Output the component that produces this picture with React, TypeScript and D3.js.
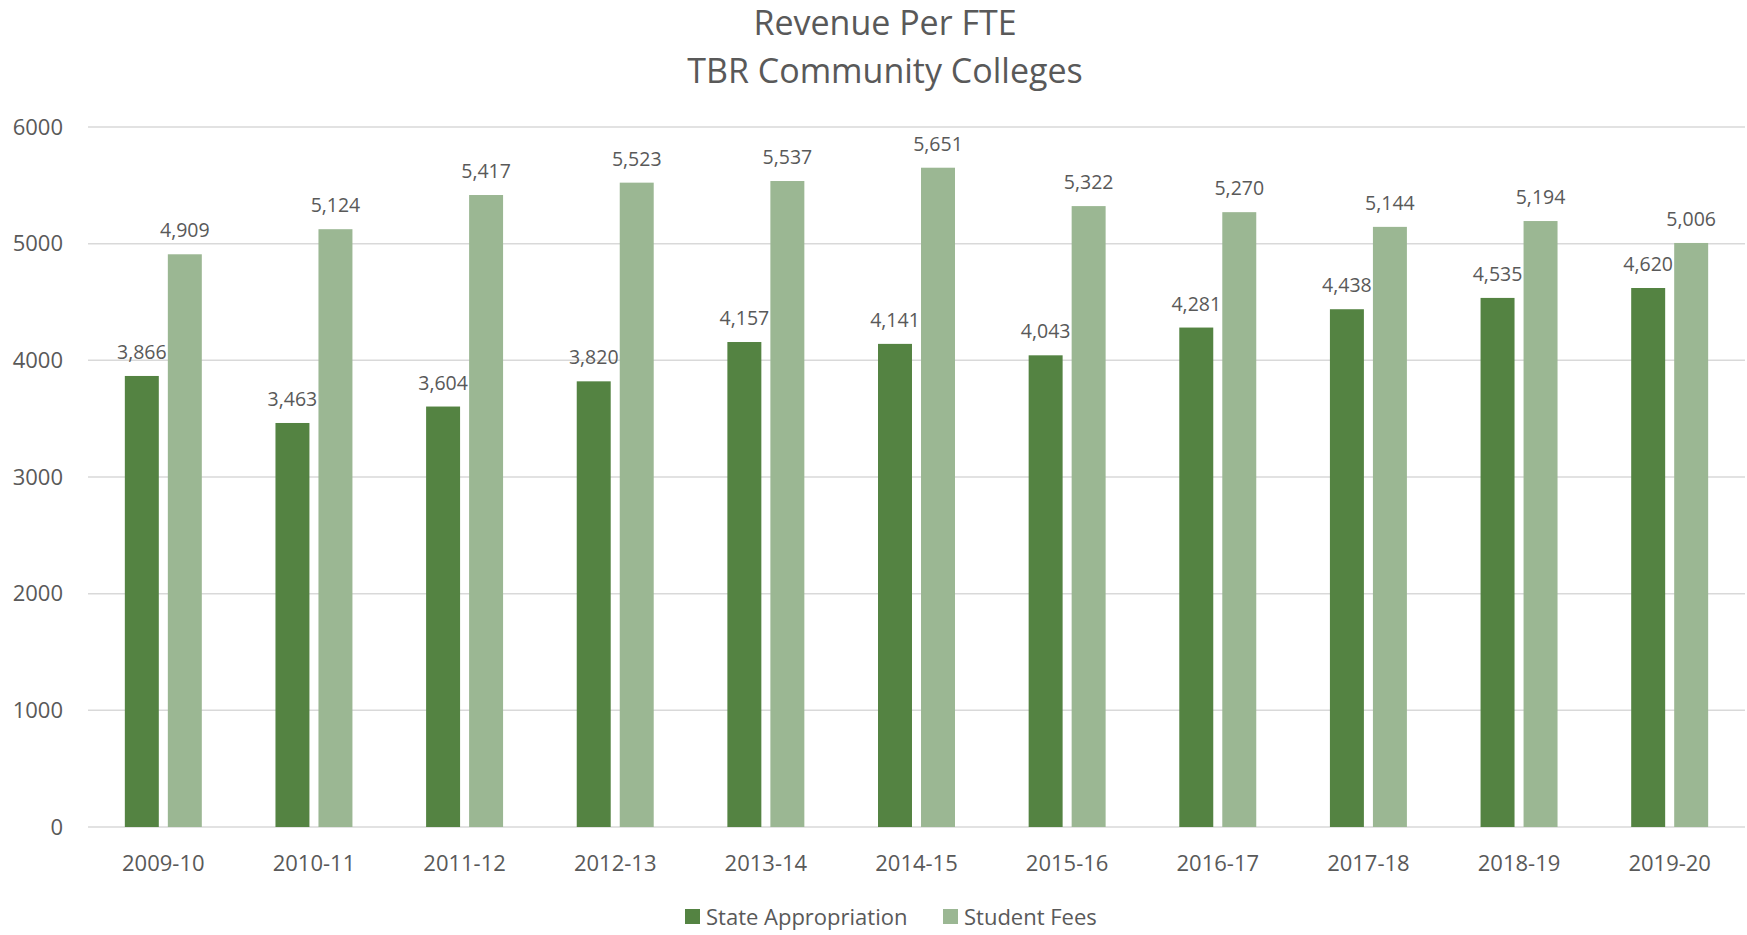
import * as d3 from "d3";

const years = [
  "2009-10", "2010-11", "2011-12", "2012-13", "2013-14", "2014-15",
  "2015-16", "2016-17", "2017-18", "2018-19", "2019-20",
];
const stateAppropriation = [3866, 3463, 3604, 3820, 4157, 4141, 4043, 4281, 4438, 4535, 4620];
const studentFees = [4909, 5124, 5417, 5523, 5537, 5651, 5322, 5270, 5144, 5194, 5006];
const seriesNames = ["State Appropriation", "Student Fees"];
const yTicks = [0, 1000, 2000, 3000, 4000, 5000, 6000];

const colors = ["#548342", "#9BB793"];
const textColor = "#595959";
const font = "'Open Sans', 'Noto Sans', sans-serif";

const width = 1747;
const height = 935;
const margin = { top: 127, right: 2, bottom: 108, left: 88 };

const App = () => {
  const x = d3.scaleBand()
    .domain(years)
    .range([margin.left, width - margin.right])
    .paddingInner(0.489)
    .paddingOuter(0.2445);

  const xSub = d3.scaleBand()
    .domain(seriesNames)
    .range([0, x.bandwidth()])
    .paddingInner(0.21);

  const y = d3.scaleLinear()
    .domain([0, 6000])
    .range([height - margin.bottom, margin.top]);

  const fmt = d3.format(",");
  const series = [stateAppropriation, studentFees];

  return (
    <div style={{ position: "fixed", left: 0, top: 0 }}>
      <svg width={width} height={height} style={{ display: "block", background: "#fff" }}>
        <text x={885} y={35} textAnchor="middle" fontFamily={font} fontSize={34} fill={textColor}>
          Revenue Per FTE
        </text>
        <text x={885} y={83} textAnchor="middle" fontFamily={font} fontSize={34} fill={textColor}>
          TBR Community Colleges
        </text>

        {/* gridlines + y labels */}
        {yTicks.map(t => (
          <g key={t}>
            <line x1={margin.left} x2={width - margin.right} y1={y(t)} y2={y(t)}
              stroke="#D9D9D9" strokeWidth={1.5} />
            <text x={63} y={y(t)} dy="0.35em" textAnchor="end" fontFamily={font}
              fontSize={22} fill={textColor}>{t}</text>
          </g>
        ))}

        {/* bars */}
        {series.map((vals, si) => (
          <g key={si}>
            {years.map((yr, i) => {
              const bx = (x(yr) ?? 0) + (xSub(seriesNames[si]) ?? 0);
              const bw = xSub.bandwidth();
              return (
                <g key={yr}>
                  <rect x={bx} y={y(vals[i])} width={bw} height={y(0) - y(vals[i])} fill={colors[si]} />
                  <text x={bx + bw / 2} y={y(vals[i]) - 17} textAnchor="middle" fontFamily={font}
                    fontSize={19.5} fill={textColor}>{fmt(vals[i])}</text>
                </g>
              );
            })}
          </g>
        ))}

        {/* x labels */}
        {years.map(yr => (
          <text key={yr} x={(x(yr) ?? 0) + x.bandwidth() / 2} y={871} textAnchor="middle"
            fontFamily={font} fontSize={22} fill={textColor}>{yr}</text>
        ))}

        {/* legend */}
        {[685, 943].map((lx, i) => (
          <g key={i}>
            <rect x={lx} y={909} width={15} height={15} fill={colors[i]} />
            <text x={lx + 21} y={925} fontFamily={font} fontSize={22} fill={textColor}>{seriesNames[i]}</text>
          </g>
        ))}
      </svg>
    </div>
  );
};

export default App;
